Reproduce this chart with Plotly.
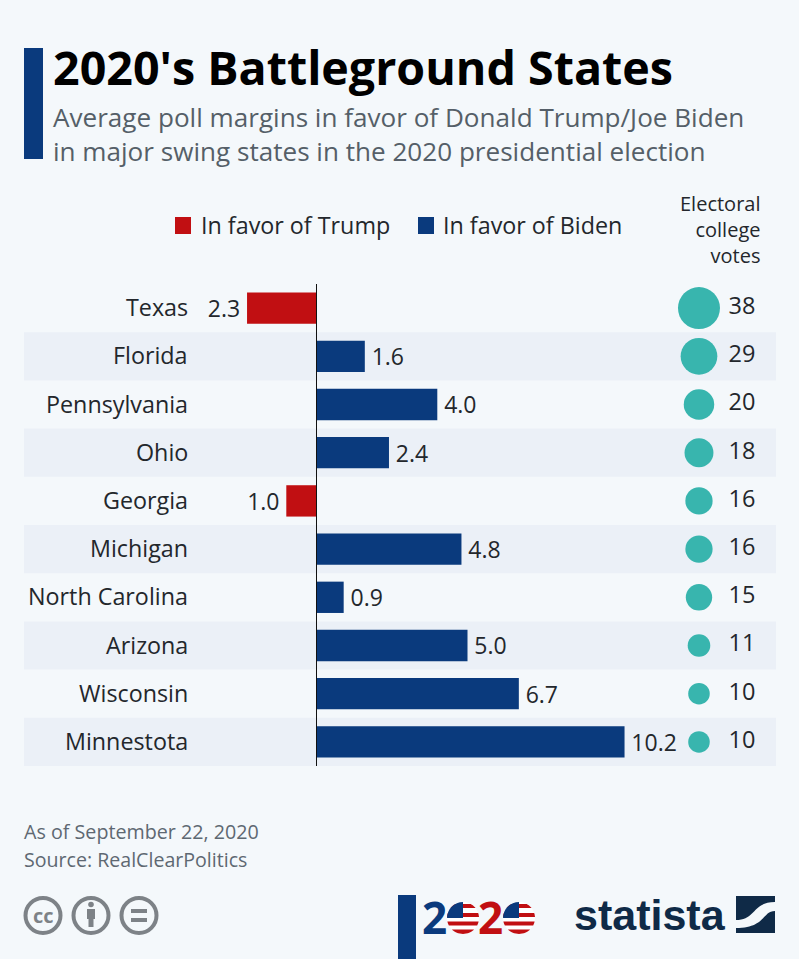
import math
import plotly.graph_objects as go

states = ["Texas", "Florida", "Pennsylvania", "Ohio", "Georgia", "Michigan",
          "North Carolina", "Arizona", "Wisconsin", "Minnestota"]
trump = [2.3, None, None, None, 1.0, None, None, None, None, None]
biden = [None, 1.6, 4.0, 2.4, None, 4.8, 0.9, 5.0, 6.7, 10.2]
votes = [38, 29, 20, 18, 16, 16, 15, 11, 10, 10]

BLUE = "#0a3a7d"
RED = "#c10f12"
TEAL = "#38b5ae"
BG = "#f4f8fb"
STRIPE = "#ebf0f7"
INK = "#23272c"
GREY = "#7d8287"
NAVY = "#0f2a47"
W, H = 799, 959


# pixel helpers for the page furniture
def px(x):
    return x / W


def py(y):
    return 1 - y / H


def label(x, y, text, size, color=INK, anchor="left", family="Open Sans"):
    # annotations carry a small pad, nudge so text lands where asked
    nudge = {"left": -2, "right": 2, "center": 0}[anchor]
    fig.add_annotation(xref="paper", yref="paper", x=px(x + nudge), y=py(y), text=text, showarrow=False,
                       xanchor=anchor, yanchor="middle", align=anchor,
                       font=dict(family=family, size=size, color=color))


def box(x0, y0, x1, y1, color, layer="above"):
    fig.add_shape(type="rect", xref="paper", yref="paper", x0=px(x0), x1=px(x1), y0=py(y0), y1=py(y1),
                  fillcolor=color, line_width=0, layer=layer)


def circle(cx, cy, r, fill, line=None, lw=0):
    fig.add_shape(type="circle", xref="paper", yref="paper", x0=px(cx - r), x1=px(cx + r),
                  y0=py(cy - r), y1=py(cy + r), fillcolor=fill, line=dict(color=line or fill, width=lw))


def poly(points, color):
    path = "M " + " L ".join(f"{px(a)} {py(b)}" for a, b in points) + " Z"
    fig.add_shape(type="path", xref="paper", yref="paper", path=path, fillcolor=color, line_width=0)


def band(cx, cy, r, y0, y1, color):
    # horizontal stripe cut to the circle
    steps = [y0 + (y1 - y0) * k / 6 for k in range(7)]
    half = [math.sqrt(max(r ** 2 - (s - cy) ** 2, 0)) for s in steps]
    poly([(cx - h, s) for h, s in zip(half, steps)] +
         [(cx + h, s) for h, s in zip(half[::-1], steps[::-1])], color)


fig = go.Figure()

# Trump margins go left of the axis, thin spaces widen the gap to the bar
fig.add_bar(y=states, x=[-v if v else None for v in trump], orientation="h", marker_color=RED,
            marker_line_width=0, text=trump, texttemplate="%{text:.1f}\u2009", textposition="outside",
            cliponaxis=False, textfont=dict(family="Open Sans", size=23.5, color=INK), width=0.65)
fig.add_bar(y=states, x=biden, orientation="h", marker_color=BLUE, marker_line_width=0,
            text=biden, texttemplate="\u2009%{text:.1f}", textposition="outside", cliponaxis=False,
            textfont=dict(family="Open Sans", size=23.5, color=INK), width=0.65)

# electoral votes column
fig.add_scatter(y=states, x=["dot"] * len(states), xaxis="x2", mode="markers",
                marker=dict(size=votes, sizemode="area", sizeref=2 * 38 / 42 ** 2, color=TEAL,
                            opacity=1, line_width=0))
fig.add_scatter(y=states, x=["num"] * len(states), xaxis="x2", mode="text", text=votes,
                textfont=dict(family="Open Sans", size=23.5, color=INK))

# stripes behind every other row, state names right aligned
for i, s in enumerate(states):
    if i % 2:
        fig.add_shape(type="rect", xref="paper", yref="y", x0=px(24), x1=px(776), y0=i - 0.5, y1=i + 0.5,
                      line_width=0, fillcolor=STRIPE, layer="below")
    fig.add_annotation(xref="paper", yref="y", x=px(189.5), y=s, yshift=1, text=s, showarrow=False,
                       xanchor="right", font=dict(family="Open Sans", size=23.3, color=INK))

# title block
box(24, 48, 43, 159, BLUE)
label(53, 67, "<b>2020's Battleground States</b>", 46.6, "#000000")
label(53, 134, "Average poll margins in favor of Donald Trump/Joe Biden<br>"
               "in major swing states in the 2020 presidential election", 26.1, "#555f68")

# legend
box(175, 217, 191, 234, RED)
label(201, 225, "In favor of Trump", 23.3)
box(418, 217, 434, 234, BLUE)
label(443, 225, "In favor of Biden", 23.3)
label(760, 229, "Electoral<br>college<br>votes", 20, anchor="right")

# footer
label(24, 831, "As of September 22, 2020", 19.7, "#5e6872")
label(24, 859, "Source: RealClearPolitics", 19.6, "#5e6872")

for cx in (43, 91, 139):
    circle(cx, 915.5, 17.5, "rgba(0,0,0,0)", GREY, 4)
label(43, 915, "<b>cc</b>", 20, GREY, anchor="center")
circle(91, 904.5, 2.8, GREY)
box(87, 909, 95, 919, GREY)
box(88.5, 919, 93.5, 927, GREY)
box(131, 909, 147, 913, GREY)
box(131, 918, 147, 922, GREY)

# 2020 logo
box(398, 895, 416, 959, BLUE)
label(434, 917, "<b>2</b>", 44, BLUE, anchor="center")
label(490, 917, "<b>2</b>", 44, RED, anchor="center")
for cx in (463, 519):
    cy, r = 918, 16
    circle(cx, cy, r, "#ffffff")
    for y0, y1 in ((904, 908), (913, 917), (921.5, 925.5), (929.5, 934)):
        band(cx, cy, r, y0, y1, RED)
    arc = [(cx - 16 * math.cos(a * math.pi / 16), cy - 16 * math.sin(a * math.pi / 16)) for a in range(9)]
    poly([(cx, cy)] + arc, BLUE)

# statista logo
label(650, 915, "<b>statista</b>", 43, NAVY, anchor="center", family="Liberation Sans")
poly([(736, 896), (775, 896), (775, 933), (736, 933)], NAVY)
fig.add_shape(type="path", xref="paper", yref="paper", line_width=0, fillcolor=BG,
              path=f"M {px(736)} {py(920)} C {px(756)} {py(920)} {px(752)} {py(902)} {px(775)} {py(902)} "
                   f"L {px(775)} {py(911)} C {px(762)} {py(911)} {px(766)} {py(928)} {px(736)} {py(928)} Z")

fig.update_layout(
    width=W, height=H, showlegend=False, barmode="overlay",
    margin=dict(l=0, r=0, t=0, b=0), paper_bgcolor=BG, plot_bgcolor="rgba(0,0,0,0)",
    xaxis=dict(domain=[px(24), px(776)], range=[(24 - 316.5) / 30.2, (776 - 316.5) / 30.2],
               visible=False, showgrid=False, zeroline=False),
    xaxis2=dict(domain=[px(670), px(776)], type="category", categoryorder="array",
                categoryarray=["dot", "num"], range=[-0.674, 1.791], visible=False, anchor="y"),
    yaxis=dict(domain=[py(766), py(284)], range=[9.5, -0.5], type="category", categoryorder="array",
               categoryarray=states, visible=False, showgrid=False, zeroline=False),
)
fig.add_shape(type="line", xref="x", yref="paper", x0=0, x1=0, y0=py(284), y1=py(766),
              line=dict(color="#111111", width=1))

fig.write_html("out.html", config=dict(displayModeBar=False),
               post_script="document.body.style.margin='0';document.body.style.background='#f4f8fb';")
